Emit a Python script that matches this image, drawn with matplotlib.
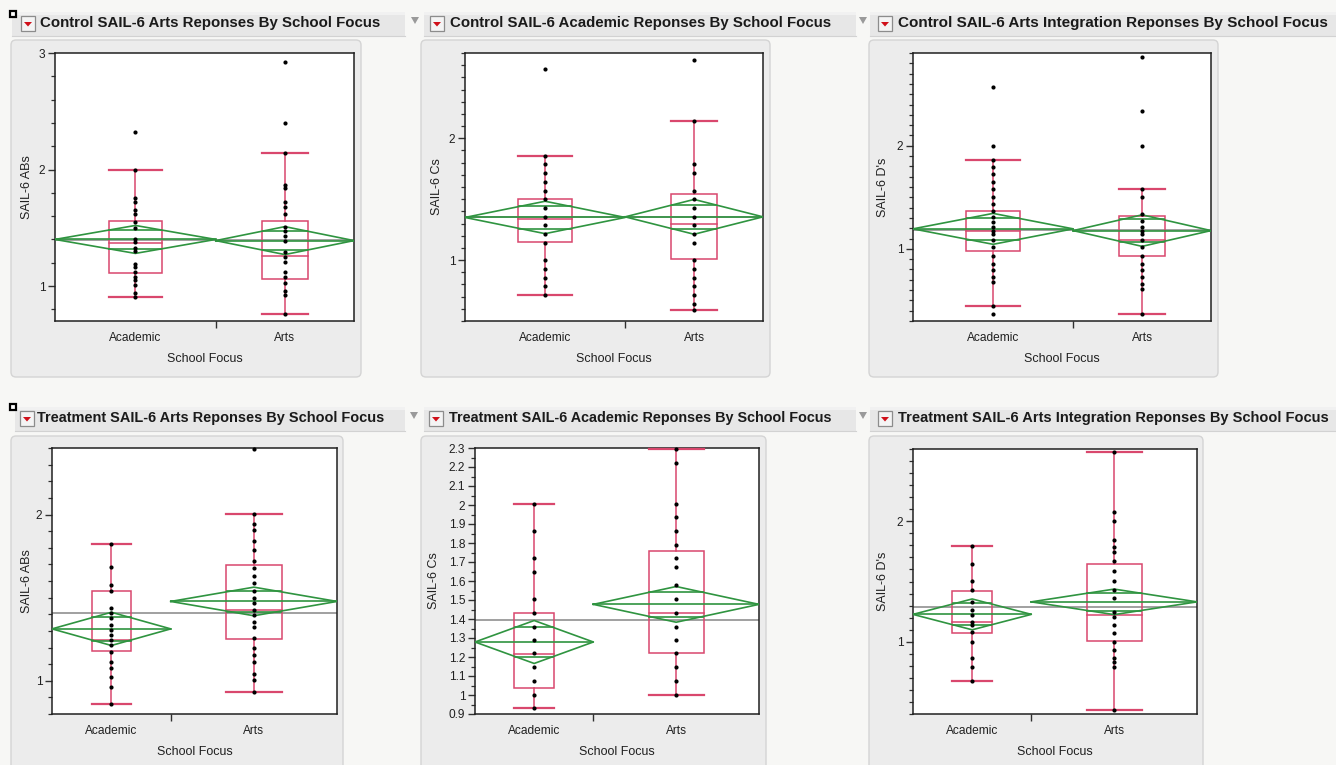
import matplotlib
matplotlib.use("Agg")
import matplotlib.pyplot as plt
import numpy as np
from matplotlib import font_manager
from matplotlib.patches import FancyBboxPatch, Rectangle, Polygon
from matplotlib.ticker import FuncFormatter

# ---------------- data ----------------
groups = ["Academic", "Arts"]
x_title = "School Focus"

titles = [
    "Control SAIL-6 Arts Reponses By School Focus",
    "Control SAIL-6 Academic Reponses By School Focus",
    "Control SAIL-6 Arts Integration Reponses By School Focus",
    "Treatment SAIL-6 Arts Reponses By School Focus",
    "Treatment SAIL-6 Academic Reponses By School Focus",
    "Treatment SAIL-6 Arts Integration Reponses By School Focus",
]
y_titles = ["SAIL-6 ABs", "SAIL-6 Cs", "SAIL-6 D's", "SAIL-6 ABs", "SAIL-6 Cs", "SAIL-6 D's"]

n_control = [43, 37]
n_treatment = [20, 28]

# Control - Arts responses
c_arts_academic = [2.325, 2.0, 1.755, 1.72, 1.65, 1.62, 1.55, 1.5, 1.4, 1.375, 1.33, 1.3,
                   1.19, 1.16, 1.12, 1.08, 1.05, 1.005, 0.94, 0.906]
c_arts_arts = [2.92, 2.4, 2.145, 1.87, 1.84, 1.72, 1.68, 1.62, 1.51, 1.475, 1.43, 1.39,
               1.29, 1.25, 1.205, 1.12, 1.08, 1.03, 0.96, 0.92, 0.764]
c_arts_box = [[0.906, 1.11, 1.37, 1.56, 2.0], [0.764, 1.063, 1.26, 1.56, 2.145]]
c_arts_mean = [1.40, 1.39]
c_arts_ci = [0.12, 0.12]
c_arts_grand = 1.395

# Control - Academic responses
c_acad_academic = [2.571, 1.857, 1.786, 1.714, 1.643, 1.571, 1.5, 1.429, 1.357, 1.286,
                   1.214, 1.143, 1.0, 0.929, 0.857, 0.786, 0.714]
c_acad_arts = [2.643, 2.143, 1.786, 1.714, 1.571, 1.5, 1.429, 1.357, 1.286, 1.214, 1.143,
               1.0, 0.929, 0.857, 0.786, 0.714, 0.643, 0.59]
c_acad_box = [[0.714, 1.15, 1.336, 1.50, 1.857], [0.59, 1.008, 1.295, 1.54, 2.143]]
c_acad_mean = [1.35, 1.355]
c_acad_ci = [0.133, 0.143]
c_acad_grand = 1.352

# Control - Arts Integration responses
c_integ_academic = [2.571, 2.0, 1.865, 1.79, 1.726, 1.645, 1.581, 1.5, 1.435, 1.371, 1.306,
                    1.258, 1.21, 1.177, 1.145, 1.081, 1.016, 0.935, 0.855, 0.79, 0.726,
                    0.677, 0.442, 0.371]
c_integ_arts = [2.861, 2.339, 2.0, 1.581, 1.5, 1.339, 1.274, 1.21, 1.177, 1.145, 1.081,
                1.016, 0.935, 0.855, 0.79, 0.726, 0.661, 0.613, 0.371]
c_integ_box = [[0.442, 0.977, 1.177, 1.371, 1.865], [0.371, 0.935, 1.087, 1.323, 1.58]]
c_integ_mean = [1.194, 1.177]
c_integ_ci = [0.15, 0.153]
c_integ_grand = 1.186

# Treatment - Arts responses
t_arts_academic = [1.825, 1.682, 1.577, 1.537, 1.437, 1.406, 1.376, 1.336, 1.306, 1.276,
                   1.245, 1.215, 1.175, 1.115, 1.074, 1.024, 0.964, 0.859]
t_arts_arts = [2.396, 2.004, 1.94, 1.909, 1.839, 1.789, 1.718, 1.678, 1.628, 1.588, 1.537,
               1.497, 1.467, 1.427, 1.396, 1.356, 1.326, 1.256, 1.195, 1.155, 1.115,
               1.038, 1.004, 0.932]
t_arts_box = [[0.859, 1.179, 1.245, 1.537, 1.825], [0.932, 1.25, 1.427, 1.698, 2.004]]
t_arts_mean = [1.312, 1.477]
t_arts_ci = [0.10, 0.086]
t_arts_grand = 1.406

# Treatment - Academic responses
t_acad_academic = [2.006, 1.865, 1.72, 1.648, 1.507, 1.433, 1.36, 1.289, 1.219, 1.146,
                   1.076, 1.002, 0.932]
t_acad_arts = [2.296, 2.22, 2.006, 1.935, 1.865, 1.79, 1.72, 1.675, 1.578, 1.507, 1.433,
               1.36, 1.289, 1.219, 1.146, 1.076, 1.002]
t_acad_box = [[0.932, 1.037, 1.217, 1.433, 2.006], [1.002, 1.219, 1.433, 1.756, 2.296]]
t_acad_mean = [1.279, 1.477]
t_acad_ci = [0.113, 0.094]
t_acad_grand = 1.395

# Treatment - Arts Integration responses
t_integ_academic = [1.793, 1.649, 1.506, 1.428, 1.331, 1.262, 1.221, 1.166, 1.138, 1.083,
                    1.0, 0.862, 0.793, 0.674]
t_integ_arts = [2.575, 2.077, 2.0, 1.843, 1.787, 1.746, 1.669, 1.586, 1.506, 1.428, 1.359,
                1.249, 1.207, 1.138, 1.069, 1.0, 0.931, 0.862, 0.834, 0.793, 0.434]
t_integ_box = [[0.674, 1.075, 1.166, 1.423, 1.793], [0.434, 1.006, 1.221, 1.644, 2.575]]
t_integ_mean = [1.227, 1.331]
t_integ_ci = [0.128, 0.106]
t_integ_grand = 1.29

# ---------------- styling / layout ----------------
W, H = 1336, 765
RED = "#d9476d"
GREEN = "#2f9440"
GRAY_LINE = "#a0a0a0"
PAGE = "#f7f7f5"
PANEL = "#ececec"


def pick_font(cands):
    for c in cands:
        try:
            font_manager.findfont(font_manager.FontProperties(family=c), fallback_to_default=False)
            return c
        except Exception:
            continue
    return "DejaVu Sans"


TITLE_FONT = pick_font(["Liberation Sans Narrow", "Liberation Sans", "DejaVu Sans"])
AX_FONT = pick_font(["Liberation Sans", "DejaVu Sans"])

fig = plt.figure(figsize=(W / 100, H / 100), dpi=100, facecolor=PAGE)
renderer = fig.canvas.get_renderer()


def fit_size(text, family, weight, target_px, ref=10.0):
    t = fig.text(0, 0, text, fontsize=ref, family=family, weight=weight)
    w = t.get_window_extent(renderer).width
    t.remove()
    return ref * target_px / w


title_widths = [341, 379, 427, 347, 384, 428]
title_fs = [fit_size(t, TITLE_FONT, "bold", w) for t, w in zip(titles, title_widths)]
axlab_fs = fit_size(x_title, AX_FONT, "normal", 76)
tick_fs = axlab_fs * 0.95

# background / chrome axes
bg = fig.add_axes([0, 0, 1, 1], zorder=-5)
bg.set_xlim(0, W)
bg.set_ylim(H, 0)
bg.axis("off")

rows = [(12, 36), (407, 431)]
bars = [[(12, 405), (424, 856), (870, 1336)], [(15, 405), (424, 856), (870, 1336)]]
boxes = [[(11, 361), (421, 770), (869, 1218)], [(11, 343), (421, 766), (869, 1203)]]
box_y = [(40, 377), (436, 780)]
icon_x = [[21, 430, 878], [20, 429, 878]]
title_x = [[40, 450, 898], [37, 449, 898]]
tri_x = [[415, 863], [414, 863]]

for r in range(2):
    y0, y1 = rows[r]
    for (x0, x1) in bars[r]:
        bg.add_patch(Rectangle((x0, y0), x1 - x0, y1 - y0, fc="#e7e7e7", ec="none"))
        bg.add_patch(Rectangle((x0, y0), x1 - x0, 3, fc="#f1f1f1", ec="none"))
        bg.plot([x0, x1], [y1, y1], color="#d2d2d2", lw=0.8)
    for (x0, x1) in boxes[r]:
        by0, by1 = box_y[r]
        bg.add_patch(FancyBboxPatch((x0, by0), x1 - x0, by1 - by0,
                                    boxstyle="round,pad=0,rounding_size=5",
                                    fc=PANEL, ec="#d4d4d4", lw=1.0))
    # black square marker
    bg.add_patch(Rectangle((10, y0 - 1 if r == 0 else y0 - 3), 6, 6, fc="white", ec="black", lw=1.6))
    for k in range(3):
        ix = icon_x[r][k]
        bg.add_patch(Rectangle((ix, y0 + 4), 14, 15, fc="#f4f4f4", ec="#8c8c8c", lw=0.9))
        cx, cy = ix + 7, y0 + 12
        bg.add_patch(Polygon([[cx - 4, cy - 2], [cx + 4, cy - 2], [cx, cy + 2.5]],
                             closed=True, fc="#d0101a", ec="none"))
        bg.text(title_x[r][k], y0 + 15, titles[r * 3 + k], fontsize=title_fs[r * 3 + k],
                family=TITLE_FONT, weight="bold", color="#1a1a1a", va="baseline", ha="left")
    for tx in tri_x[r]:
        bg.add_patch(Polygon([[tx - 4, y0 + 5], [tx + 4, y0 + 5], [tx, y0 + 12]],
                             closed=True, fc="#9a9a9a", ec="none"))

# plot areas in pixels (x0, x1, y0, y1)
areas = [(55, 354, 53, 321), (465, 763, 53, 321), (913, 1211, 53, 321),
         (52, 337, 448, 714), (475, 759, 448, 714), (913, 1197, 449, 714)]
ylims = [(0.70, 3.0), (0.5, 2.7), (0.3, 2.9), (0.8, 2.4), (0.9, 2.3), (0.4, 2.6)]
ylab_off = [22, 22, 24, 19, 35, 24]

panels = [
    (c_arts_academic, c_arts_arts, c_arts_box, c_arts_mean, c_arts_ci, c_arts_grand, n_control),
    (c_acad_academic, c_acad_arts, c_acad_box, c_acad_mean, c_acad_ci, c_acad_grand, n_control),
    (c_integ_academic, c_integ_arts, c_integ_box, c_integ_mean, c_integ_ci, c_integ_grand, n_control),
    (t_arts_academic, t_arts_arts, t_arts_box, t_arts_mean, t_arts_ci, t_arts_grand, n_treatment),
    (t_acad_academic, t_acad_arts, t_acad_box, t_acad_mean, t_acad_ci, t_acad_grand, n_treatment),
    (t_integ_academic, t_integ_arts, t_integ_box, t_integ_mean, t_integ_ci, t_integ_grand, n_treatment),
]

for i, (pa, pb, boxst, means, cis, grand, ns) in enumerate(panels):
    x0, x1, y0, y1 = areas[i]
    aw, ah = x1 - x0, y1 - y0
    ax = fig.add_axes([x0 / W, 1 - y1 / H, aw / W, ah / H])
    ax.set_facecolor("white")
    ax.set_xlim(0, 1)
    ax.set_ylim(*ylims[i])
    for s in ax.spines.values():
        s.set_linewidth(1.1)
        s.set_color("#202020")

    edges = np.concatenate([[0], np.cumsum(ns) / np.sum(ns)])
    centers = (edges[:-1] + edges[1:]) / 2

    ax.axhline(grand, color=GRAY_LINE, lw=1.4, zorder=2)
    k = 1 / np.sqrt(2)
    for g, pts in enumerate([pa, pb]):
        gx0, gx1 = edges[g], edges[g + 1]
        xc = centers[g]
        bw = (gx1 - gx0) / 3
        lo, q1, med, q3, hi = boxst[g]
        ax.add_patch(Rectangle((xc - bw / 2, q1), bw, q3 - q1, fill=False, ec=RED, lw=1.1, zorder=3))
        ax.plot([xc - bw / 2, xc + bw / 2], [med, med], color=RED, lw=1.1, zorder=3)
        ax.plot([xc, xc], [q3, hi], color=RED, lw=1.1, zorder=3)
        ax.plot([xc, xc], [lo, q1], color=RED, lw=1.1, zorder=3)
        for v in (lo, hi):
            ax.plot([xc - bw / 2, xc + bw / 2], [v, v], color=RED, lw=1.6, zorder=3, clip_on=False)
        m, h = means[g], cis[g]
        ax.plot([gx0, xc, gx1, xc, gx0], [m, m + h, m, m - h, m], color=GREEN, lw=1.2, zorder=4)
        ax.plot([gx0, gx1], [m, m], color=GREEN, lw=1.2, zorder=4)
        dx = (1 - k) * (gx1 - gx0) / 2 * 1.1
        for sgn in (1, -1):
            ax.plot([xc - dx, xc + dx], [m + sgn * k * h] * 2, color=GREEN, lw=1.2, zorder=4)
        ax.scatter([xc] * len(pts), pts, s=9, c="black", linewidths=0, zorder=5, clip_on=False)

    # x axis
    ax.set_xticks([edges[1]])
    ax.set_xticklabels([""])
    ax.set_xticks(centers, minor=True)
    ax.set_xticklabels(groups, minor=True, fontsize=tick_fs, family=AX_FONT, color="#202020")
    ax.tick_params(axis="x", which="major", length=5, width=1, direction="out", color="#303030")
    ax.tick_params(axis="x", which="minor", length=0, pad=8)
    ax.set_xlabel(x_title, fontsize=axlab_fs, family=AX_FONT, color="#202020")
    ax.xaxis.set_label_coords(0.5, -32 / ah)

    # y axis
    lo_, hi_ = ylims[i]
    if i == 4:
        major = np.round(np.arange(0.9, 2.301, 0.1), 2)
        minor = np.round(np.arange(0.95, 2.3, 0.1), 3)
    else:
        major = [v for v in (1, 2, 3) if lo_ <= v <= hi_ + 1e-9]
        step = 0.2 if i == 0 else 0.1
        minor = [v for v in np.round(np.arange(0.0, 3.01, step), 3)
                 if lo_ - 1e-9 <= v <= hi_ + 1e-9 and not np.isclose(v, np.round(v))]
    ax.set_yticks(major)
    ax.set_yticks(minor, minor=True)
    ax.yaxis.set_major_formatter(FuncFormatter(lambda v, _: f"{v:g}"))
    ax.tick_params(axis="y", which="major", length=5, width=1, pad=2, labelsize=tick_fs,
                   color="#303030", labelcolor="#202020")
    ax.tick_params(axis="y", which="minor", length=3, width=0.9, color="#303030")
    for lab in ax.get_yticklabels():
        lab.set_family(AX_FONT)
    ax.set_ylabel(y_titles[i], fontsize=axlab_fs, family=AX_FONT, color="#202020")
    ax.yaxis.set_label_coords(-ylab_off[i] / aw, 0.5)

fig.savefig("out.png", dpi=100, facecolor=PAGE)
